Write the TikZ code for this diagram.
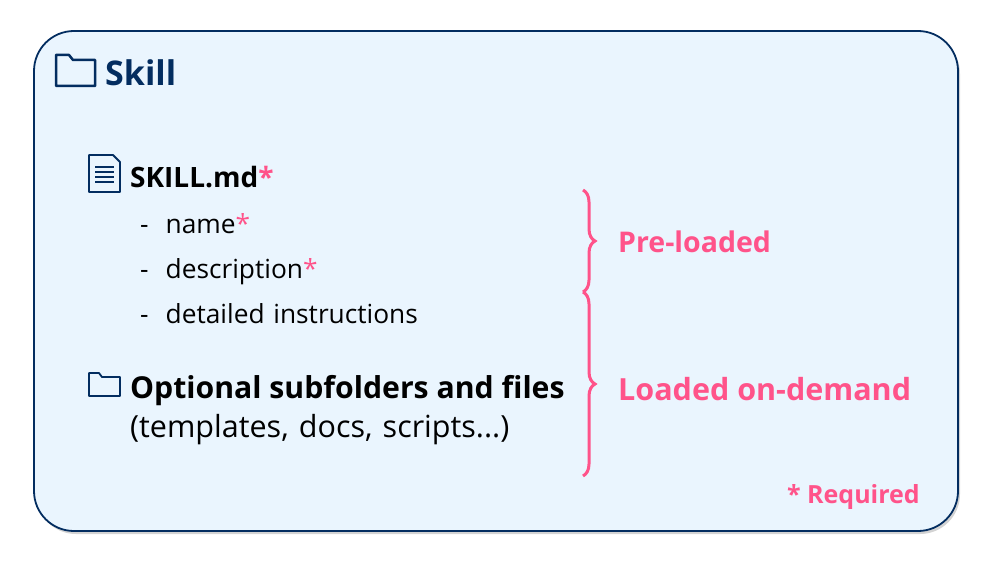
\documentclass[tikz,border=0pt]{standalone}
\usepackage{fontspec}
\setmainfont{Open Sans}
\usetikzlibrary{decorations.pathreplacing,shadows}
\definecolor{navy}{HTML}{032D60}
\definecolor{pinkreq}{HTML}{FF538A}
\definecolor{boxbg}{HTML}{EAF5FE}
\tikzset{
  item/.style={anchor=base west, inner sep=0pt, font=\fontsize{26.3}{28}\selectfont, text width=400pt},
  head/.style={anchor=base west, inner sep=0pt, font=\fontsize{28}{32}\selectfont\bfseries},
  pinklbl/.style={anchor=west, inner sep=0pt, text=pinkreq, font=\fontsize{28.5}{30}\selectfont\bfseries},
  brc/.style={pinkreq, line width=3pt, decorate, decoration={brace, amplitude=12pt}},
}
\newcommand{\req}{\textcolor{pinkreq}{*}}
\begin{document}
\begin{tikzpicture}[x=1pt,y=-1pt]
  \useasboundingbox (0,0) rectangle (1000,564);
  \draw[navy, line width=1.8pt, fill=boxbg, rounded corners=40pt,
        drop shadow={shadow xshift=2pt, shadow yshift=-3pt, opacity=0.35}]
    (34,31) rectangle (958,531);
  % folder icon for title
  \draw[navy, line width=2.5pt, line join=round]
    (56,86) -- (56,55) -- (69,55) -- (73,60) -- (95,60) -- (95,86) -- cycle;
  \node[head, text=navy, font=\fontsize{34}{40}\selectfont\bfseries] (title) at (105,86) {Skill};
  % document icon
  \draw[navy, line width=1.8pt, line join=round]
    (89,192) -- (89,155) -- (113,155) -- (120,162) -- (120,192) -- cycle;
  \foreach \y in {167,172,177,182}
    \draw[navy, line width=1.6pt] (95,\y) -- (114,\y);
  \node[head] (skillmd) at (130,187) {SKILL.md\req};
  \node[item] (name) at (140,233) {-\hspace{17pt}name\req};
  \node[item] (desc) at (140,278) {-\hspace{17pt}description\req};
  \node[item] (instr) at (140,323) {-\hspace{17pt}detailed instructions};
  % folder icon for subfolders
  \draw[navy, line width=1.8pt, line join=round]
    (89,396) -- (89,373) -- (99,373) -- (102,377) -- (120,377) -- (120,396) -- cycle;
  \node[head, font=\fontsize{30.2}{34}\selectfont\bfseries] (opt) at (130,398) {Optional subfolders and files};
  \node[item, font=\fontsize{30.5}{32}\selectfont] (ex) at (130,437) {(templates, docs, scripts...)};
  % braces
  \coordinate (b1) at (583,190);
  \coordinate (b2) at (583,292);
  \coordinate (b3) at (583,476);
  \draw[brc] (b1) -- (b2);
  \draw[brc] (b2) -- (b3);
  \node[pinklbl] (pre) at (618,242) {Pre-loaded};
  \node[pinklbl, font=\fontsize{30.5}{32}\selectfont\bfseries] (ond) at (618,389) {Loaded on-demand};
  \node[pinklbl, anchor=base east, font=\fontsize{25}{28}\selectfont\bfseries] (reqlbl) at (920,503) {* Required};
\end{tikzpicture}
\end{document}
